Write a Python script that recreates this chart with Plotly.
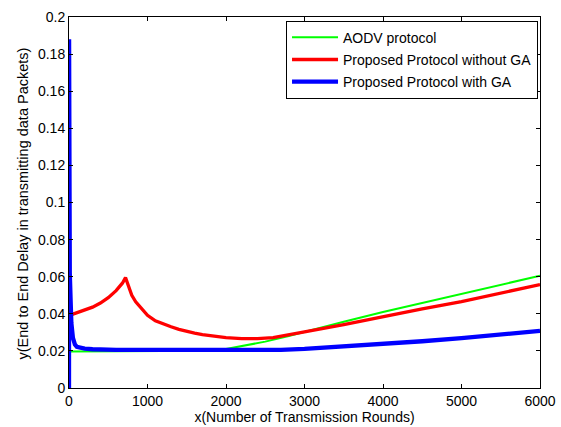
import plotly.graph_objects as go

# Transmission rounds and end-to-end delay for each protocol
aodv_x = [0, 200, 500, 1000, 1500, 1800, 2000, 2200, 2500, 2800, 3000,
          3500, 4000, 4500, 5000, 5500, 6000]
aodv_y = [0.0197, 0.0197, 0.0197, 0.0197, 0.0198, 0.0201, 0.0210, 0.0225,
          0.0250, 0.0280, 0.0303, 0.0357, 0.0410, 0.0459, 0.0507, 0.0556, 0.0605]

no_ga_x = [0, 10, 50, 100, 200, 300, 400, 500, 600, 680, 720, 760, 800, 850,
           900, 1000, 1100, 1200, 1300, 1400, 1500, 1600, 1700, 1800, 1900,
           2000, 2200, 2400, 2600, 2800, 3000, 3500, 4000, 4500, 5000, 5500, 6000]
no_ga_y = [0.0385, 0.0392, 0.0398, 0.0405, 0.0420, 0.0436, 0.0458, 0.0487,
           0.0525, 0.0565, 0.0595, 0.0545, 0.0500, 0.0465, 0.0440, 0.0392,
           0.0362, 0.0345, 0.0330, 0.0316, 0.0305, 0.0296, 0.0288, 0.0282,
           0.0276, 0.0271, 0.0266, 0.0266, 0.0272, 0.0285, 0.0302, 0.0342,
           0.0385, 0.0426, 0.0466, 0.0510, 0.0557]

ga_x = [0, 1, 5, 10, 20, 30, 50, 75, 100, 150, 200, 300, 400, 600, 1000,
        1500, 2000, 2500, 2700, 3000, 3500, 4000, 4500, 5000, 5500, 6000]
ga_y = [0.0, 0.188, 0.09, 0.062, 0.048, 0.035, 0.027, 0.0235, 0.0222,
        0.0215, 0.0212, 0.0209, 0.0206, 0.0205, 0.0205, 0.0205, 0.0205,
        0.0205, 0.0206, 0.0211, 0.0223, 0.0237, 0.0252, 0.0269, 0.0288, 0.0308]

x_ticks = [0, 1000, 2000, 3000, 4000, 5000, 6000]
x_tick_text = ["0", "1000", "2000", "3000", "4000", "5000", "6000"]
y_ticks = [0, 0.02, 0.04, 0.06, 0.08, 0.1, 0.12, 0.14, 0.16, 0.18, 0.2]
y_tick_text = ["0", "0.02", "0.04", "0.06", "0.08", "0.1", "0.12", "0.14",
               "0.16", "0.18", "0.2"]

FONT = "Liberation Sans, Arial, sans-serif"

fig = go.Figure()
fig.add_trace(go.Scatter(x=aodv_x, y=aodv_y, mode="lines",
                         name="AODV protocol", legendgroup="a",
                         line=dict(color="#00ff00", width=2)))
fig.add_trace(go.Scatter(x=no_ga_x, y=no_ga_y, mode="lines",
                         name="Proposed Protocol without GA", legendgroup="b",
                         line=dict(color="#ff0000", width=3.3)))
fig.add_trace(go.Scatter(x=ga_x, y=ga_y, mode="lines",
                         name="Proposed Protocol with GA", legendgroup="c",
                         line=dict(color="#0000ff", width=4.3)))

axis_common = dict(
    showgrid=False, zeroline=False, showline=True, linecolor="black",
    linewidth=1, mirror="ticks", ticks="inside", ticklen=4, tickcolor="black",
    tickfont=dict(family=FONT, size=14, color="black"), automargin=False,
)

fig.update_xaxes(
    range=[0, 6000], tickvals=x_ticks, ticktext=x_tick_text,
    ticklabelstandoff=0,
    title=dict(text="x(Number of Transmission Rounds)",
               font=dict(family=FONT, size=14, color="black"), standoff=2),
    **axis_common,
)
fig.update_yaxes(
    range=[0, 0.2], tickvals=y_ticks, ticktext=y_tick_text,
    **axis_common,
)

# y-axis title placed beside the tick labels
fig.add_annotation(
    text="y(End to End Delay in transmitting data Packets)",
    xref="paper", yref="paper", x=0, y=0.5, xanchor="center", yanchor="middle",
    xshift=-46.5, yshift=-1.5, textangle=-90, showarrow=False,
    font=dict(family=FONT, size=14.5, color="black"),
)

fig.update_layout(
    width=561, height=427,
    margin=dict(l=69, r=21, t=17, b=39),
    paper_bgcolor="white", plot_bgcolor="white",
    font=dict(family=FONT, size=14, color="black"),
    legend=dict(
        x=0.9958, xanchor="right", y=0.99, yanchor="top",
        bgcolor="white", bordercolor="black", borderwidth=1,
        font=dict(family=FONT, size=14, color="black"),
        tracegroupgap=1, itemwidth=46,
    ),
)

fig.write_html("out.html")
